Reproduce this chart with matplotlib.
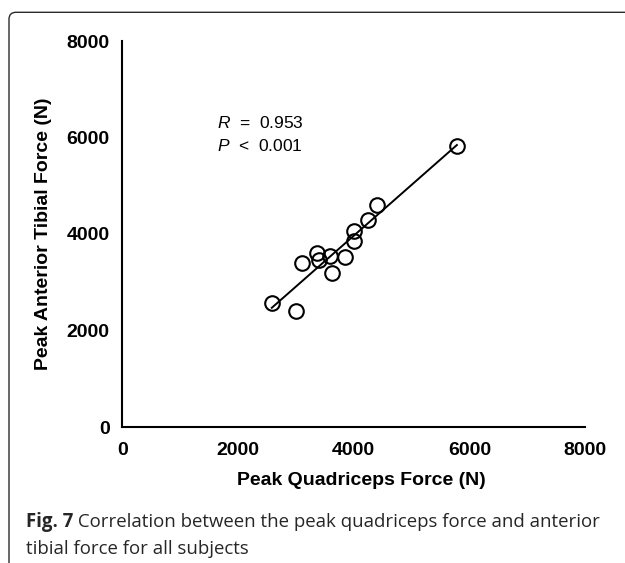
import matplotlib
matplotlib.use("Agg")
import matplotlib.pyplot as plt
import numpy as np
from matplotlib.patches import FancyBboxPatch
from matplotlib.transforms import IdentityTransform

# peak forces per subject (N)
quad_force = [5785, 4401, 4246, 4014, 4014, 3853, 3623, 3594, 3374, 3408, 3104, 2585, 3000]
tibial_force = [5824, 4601, 4290, 4062, 3861, 3530, 3185, 3544, 3612, 3461, 3405, 2564, 2410]
axis_ticks = [0, 2000, 4000, 6000, 8000]
r_value = "0.953"
p_value = "0.001"
x_label = "Peak Quadriceps Force (N)"
y_label = "Peak Anterior Tibial Force (N)"
caption_bold = "Fig. 7"
caption_rest = " Correlation between the peak quadriceps force and anterior"
caption_line2 = "tibial force for all subjects"

W, H = 625, 563

plt.rcParams["font.family"] = "Liberation Sans"
plt.rcParams["mathtext.fontset"] = "custom"
plt.rcParams["mathtext.rm"] = "Liberation Sans"
plt.rcParams["mathtext.it"] = "Liberation Sans:italic"


def fx(px):
    return px / W


def fy(py):
    return 1 - py / H


fig = plt.figure(figsize=(W / 100, H / 100), dpi=100)

# rounded frame that runs off the right and bottom edges
frame = FancyBboxPatch(
    (9, -30), 660, H - 12.3 + 30,
    boxstyle="round,pad=0,rounding_size=7",
    transform=IdentityTransform(),
    facecolor="none", edgecolor="#2b2b2b", linewidth=1.0,
)
fig.add_artist(frame)

ax = fig.add_axes([fx(122.3), fy(427), (585 - 122.3) / W, (427 - 41) / H])

x = np.array(quad_force, dtype=float)
y = np.array(tibial_force, dtype=float)
slope, intercept = np.polyfit(x, y, 1)
xs = np.array([x.min(), x.max()])

ax.plot(x, y, "o", mfc="none", mec="black", ms=10.5, mew=1.5, zorder=2)
ax.plot(xs, slope * xs + intercept, color="black", lw=1.4, zorder=3)

ax.set_xlim(0, 8000)
ax.set_ylim(0, 8000)
ax.set_xticks(axis_ticks)
ax.set_yticks(axis_ticks)
ax.tick_params(axis="both", length=0, labelsize=14)
ax.tick_params(axis="x", pad=11)
ax.tick_params(axis="y", pad=9)
for lab in ax.get_xticklabels() + ax.get_yticklabels():
    lab.set_fontweight("bold")

for side in ["top", "right"]:
    ax.spines[side].set_visible(False)
for side in ["left", "bottom"]:
    ax.spines[side].set_linewidth(1.5)
    ax.spines[side].set_color("black")

ax.set_xlabel(x_label, fontsize=14, fontweight="bold")
ax.set_ylabel(y_label, fontsize=14, fontweight="bold")
ax.xaxis.set_label_coords(0.517, -0.117)
ax.yaxis.set_label_coords(-0.152, 0.5)

ax.text(fx(216.7), fy(128.3), r"$\mathit{R}$  =  " + r_value, transform=fig.transFigure,
        fontsize=12.5, va="baseline", ha="left")
ax.text(fx(216.7), fy(150.7), r"$\mathit{P}$  <  " + p_value, transform=fig.transFigure,
        fontsize=12.5, va="baseline", ha="left")

# caption, bold lead-in followed by regular text, sized to span the frame
cap_color = "#262626"
cap_font = "Open Sans"
cap_left, cap_right = 25.7, 601
renderer = fig.canvas.get_renderer()
probe_b = fig.text(0, 0, caption_bold, fontsize=10, fontweight="bold", family=cap_font)
probe_r = fig.text(0, 0, caption_rest, fontsize=10, family=cap_font)
base_w = probe_b.get_window_extent(renderer).width + probe_r.get_window_extent(renderer).width
probe_b.remove()
probe_r.remove()
cap_size = 10 * (cap_right - cap_left) / base_w

t1 = fig.text(fx(cap_left), fy(527), caption_bold, fontsize=cap_size, fontweight="bold",
              family=cap_font, color=cap_color, va="baseline", ha="left")
bb = t1.get_window_extent(renderer)
fig.text(fx(bb.x1), fy(527), caption_rest, fontsize=cap_size, family=cap_font,
         color=cap_color, va="baseline", ha="left")
fig.text(fx(cap_left), fy(554), caption_line2, fontsize=cap_size, family=cap_font,
         color=cap_color, va="baseline", ha="left")

fig.savefig("out.png", dpi=100)
